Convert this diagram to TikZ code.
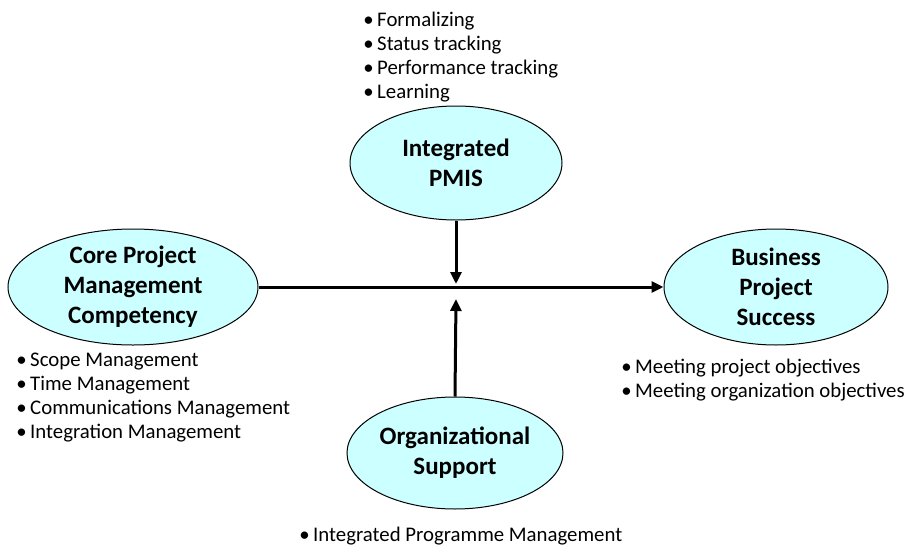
\documentclass[tikz,border=0pt]{standalone}
\usepackage{fontspec}
\setmainfont{Carlito}
\usetikzlibrary{shapes.geometric,arrows.meta}
\definecolor{blobcyan}{RGB}{204,255,255}
\tikzset{
  blob/.style={ellipse,draw=black,line width=0.5pt,fill=blobcyan,inner sep=0pt},
  blobtext/.style={align=center,font=\fontsize{12.5}{15}\selectfont\bfseries},
  bullets/.style={align=left,anchor=base west,inner sep=0pt,font=\fontsize{10.4}{12}\selectfont},
  link/.style={line width=1.5pt,-{Triangle[length=6pt,width=5.5pt]}}
}

\begin{document}
\begin{tikzpicture}[x=0.5pt,y=-0.5pt]
\useasboundingbox (0,0) rectangle (907,547);

\node[blob,minimum width=106pt,minimum height=57pt] (pmis) at (456,163) {};
\node[blobtext] at (pmis) {Integrated\\PMIS};
\node[blob,minimum width=125pt,minimum height=58pt] (core) at (133,287) {};
\node[blobtext] at (core) {Core Project\\Management\\Competency};
\node[blob,minimum width=112pt,minimum height=58pt] (success) at (776,287) {};
\node[blobtext] at (success) {Business\\Project\\Success};
\node[blob,minimum width=108pt,minimum height=56pt] (support) at (455,453) {};
\node[blobtext] at (support) {Organizational\\Support};

\coordinate (tipdown) at (456,284);
\coordinate (tipup) at (456,299);
\draw[link] (core.east) -- (success.west);
\draw[link] (pmis.south) -- (tipdown);
\draw[link] (support.north) -- (tipup);

% base anchor sits on the last line
\node[bullets] (pmislist) at (363,98) {\textbullet\,Formalizing\\\textbullet\,Status tracking\\\textbullet\,Performance tracking\\\textbullet\,Learning};
\node[bullets] (corelist) at (16,438) {\textbullet\,Scope Management\\\textbullet\,Time Management\\\textbullet\,Communications Management\\\textbullet\,Integration Management};
\node[bullets] (successlist) at (621,397) {\textbullet\,Meeting project objectives\\\textbullet\,Meeting organization objectives};
\node[bullets] (supportlist) at (299,541) {\textbullet\,Integrated Programme Management};
\end{tikzpicture}
\end{document}
